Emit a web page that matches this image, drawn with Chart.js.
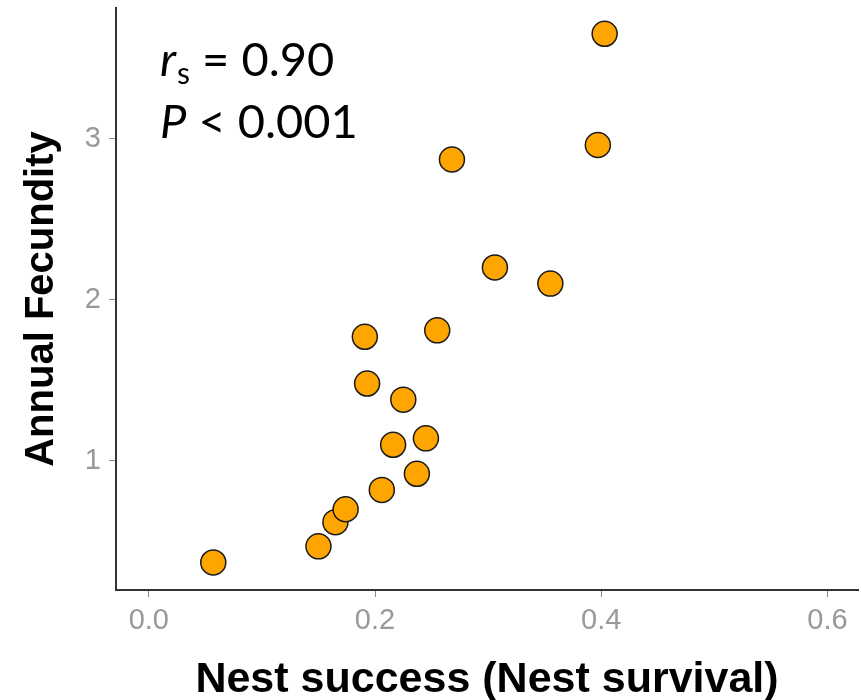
<!DOCTYPE html>
<html>
<head>
<meta charset="utf-8">
<script src="https://cdn.jsdelivr.net/npm/chart.js@4.4.0/dist/chart.umd.min.js"></script>
<style>
  html, body { margin: 0; padding: 0; background: #fff; }
  #wrap { width: 861px; height: 700px; position: relative; }
</style>
</head>
<body>
<div id="wrap"><canvas id="scatterChart" width="861" height="700"></canvas></div>
<script>
// Nest success vs annual fecundity
const nestSuccess = [0.057, 0.150, 0.165, 0.174, 0.206, 0.237, 0.216, 0.245, 0.225, 0.193,
                     0.191, 0.255, 0.306, 0.355, 0.268, 0.397, 0.403];
const fecundity   = [0.37, 0.47, 0.62, 0.70, 0.82, 0.92, 1.10, 1.14, 1.38, 1.48,
                     1.77, 1.81, 2.20, 2.10, 2.87, 2.96, 3.65];
const xTicks = [0.0, 0.2, 0.4, 0.6];
const yTicks = [1, 2, 3];

const points = nestSuccess.map((x, i) => ({ x: x, y: fecundity[i] }));

// r_s / P annotation in the top-left corner
const statsText = {
    id: 'statsText',
    afterDraw(chart) {
        const ctx = chart.ctx;
        const left = chart.chartArea.left + 44;
        const fam = 'Lato, "Open Sans", sans-serif';
        ctx.save();
        ctx.fillStyle = '#000';
        ctx.textBaseline = 'alphabetic';
        ctx.font = 'italic 47px ' + fam;
        ctx.fillText('r', left, 76);
        let w = ctx.measureText('r').width;
        ctx.font = '30px ' + fam;
        ctx.fillText('s', left + w + 1, 84);
        w += ctx.measureText('s').width + 1;
        ctx.font = '47px ' + fam;
        ctx.fillText(' = 0.90', left + w, 76);

        ctx.font = 'italic 47px ' + fam;
        ctx.fillText('P', left, 138);
        const pw = ctx.measureText('P').width;
        ctx.font = '47px ' + fam;
        ctx.fillText(' < 0.001', left + pw, 138);
        ctx.restore();
    }
};

const ctx = document.getElementById('scatterChart').getContext('2d');
const scatterChart = new Chart(ctx, {
    type: 'scatter',
    data: {
        datasets: [{
            data: points,
            backgroundColor: '#FFA500',
            borderColor: '#1a1a1a',
            borderWidth: 1.5,
            pointRadius: 12.5,
            pointHoverRadius: 12.5
        }]
    },
    options: {
        responsive: false,
        animation: false,
        layout: { autoPadding: false, padding: { top: 8, right: 3, left: 0, bottom: 0 } },
        plugins: {
            legend: { display: false },
            tooltip: { enabled: false }
        },
        scales: {
            x: {
                type: 'linear',
                min: -0.029,
                max: 0.627,
                afterBuildTicks: function(scale) {
                    scale.ticks = xTicks.map(v => ({ value: v }));
                },
                afterFit: function(scale) {
                    scale.height = 110;
                    scale.paddingLeft = 0;
                    scale.paddingRight = 0;
                },
                border: { display: true, color: '#333', width: 2 },
                grid: { drawOnChartArea: false, color: '#888', tickLength: 7, lineWidth: 1 },
                ticks: {
                    color: '#999',
                    font: { family: 'Liberation Sans', size: 29 },
                    padding: 7,
                    callback: v => v.toFixed(1)
                },
                title: {
                    display: true,
                    text: 'Nest success (Nest survival)',
                    color: '#000',
                    font: { family: 'Liberation Sans', size: 43, weight: 'bold' },
                    padding: { top: 14, bottom: -6 }
                }
            },
            y: {
                type: 'linear',
                min: 0.199,
                max: 3.81,
                afterBuildTicks: function(scale) {
                    scale.ticks = yTicks.map(v => ({ value: v }));
                },
                afterFit: function(scale) {
                    scale.width = 116;
                    scale.paddingTop = 0;
                    scale.paddingBottom = 0;
                },
                border: { display: true, color: '#333', width: 2 },
                grid: { drawOnChartArea: false, color: '#888', tickLength: 7, lineWidth: 1 },
                ticks: {
                    color: '#999',
                    font: { family: 'Liberation Sans', size: 29 },
                    padding: 8,
                    callback: v => String(v)
                },
                title: {
                    display: true,
                    text: 'Annual Fecundity',
                    color: '#000',
                    font: { family: 'Liberation Sans', size: 40, weight: 'bold' },
                    padding: { top: 18 }
                }
            }
        }
    },
    plugins: [statsText]
});
</script>
</body>
</html>
